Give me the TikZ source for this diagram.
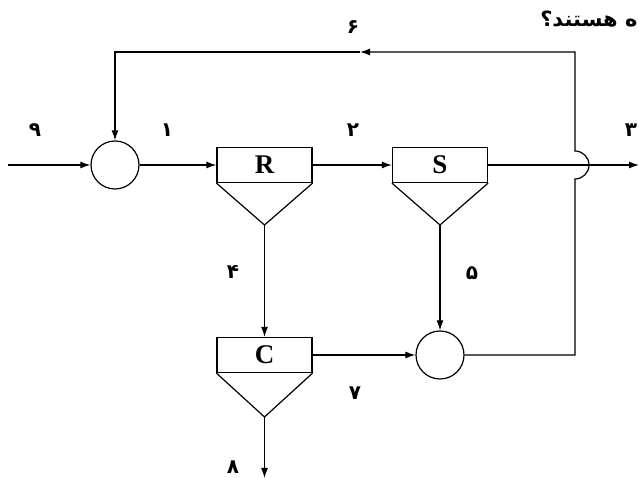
\documentclass[tikz,border=0pt]{standalone}
\usepackage{fontspec}
\setmainfont{Liberation Serif}
\newfontfamily\arabicfont[Script=Arabic]{DejaVu Sans}
\TeXXeTstate=1
\usetikzlibrary{arrows.meta,calc,positioning}
\tikzset{
	tank/.style={draw,minimum width=95pt,minimum height=35pt,inner sep=0pt,font=\fontsize{27}{27}\selectfont\bfseries},
	mixer/.style={draw,circle,minimum size=48pt,inner sep=0pt},
	num/.style={inner sep=0pt,font=\arabicfont\fontsize{20}{20}\selectfont\bfseries}
}
\begin{document}
\begin{tikzpicture}[x=1pt,y=1pt,line width=1.2pt,>={Latex[length=10pt,width=7pt]}]
		\useasboundingbox (0,0) rectangle (639,478);
		\node[mixer] (m1) at (115,313) {};
		\node[tank] (R) at (264.5,313) {R};
		\node[tank] (S) at (440,313) {S};
		\node[tank] (C) at (264.5,123) {C};
		\node[mixer] (m2) at (440,123) {};
		\coordinate (Ra) at (264.5,253);
		\coordinate (Sa) at (440,253);
		\coordinate (Ca) at (264.5,61);
		\coordinate (in9) at (8,313);
		\coordinate (out3) at (639,313);
		\coordinate (out8) at (264.5,0);
		\coordinate (jb) at (575,299);
		\coordinate (rc) at (575,426);
		\coordinate (mid6) at (360,426);
		\node[num] (l9) at (35,348) {۹};
		\node[num] (l1) at (167,348) {۱};
		\node[num] (l2) at (353,348) {۲};
		\node[num] (l3) at (631,348) {۳};
		\node[num] (l6) at (353,451) {۶};
		\node[num] (l4) at (233,206) {۴};
		\node[num] (l5) at (472,205) {۵};
		\node[num] (l7) at (355,85) {۷};
		\node[num] (l8) at (233,11) {۸};
		\node[num,anchor=east,font=\arabicfont\fontsize{21}{21}\selectfont\bfseries] (q) at (638,459) {\beginR ه هستند؟\endR};
		\draw (R.south west) -- (Ra) -- (R.south east);
		\draw (S.south west) -- (Sa) -- (S.south east);
		\draw (C.south west) -- (Ca) -- (C.south east);
		\draw[->] (in9) to (m1);
		\draw[->] (m1) to (R);
		\draw[->] (R) to (S);
		\draw[->] (S) to (out3);
		\draw[->] (Ra) to (C);
		\draw[->] (Sa) to (m2);
		\draw[->] (C) to (m2);
		\draw[->] (Ca) to (out8);
		\draw[->] (m2) -- (m2 -| jb) -- (jb) arc[start angle=-90,end angle=90,radius=14] -- (rc) -- (mid6);
		\draw[->] (mid6) -| (m1);
	\end{tikzpicture}
\end{document}
